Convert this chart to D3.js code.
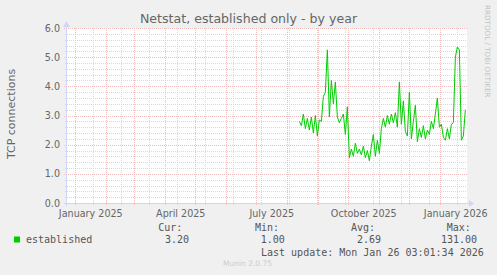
<!DOCTYPE html>
<html>
<head>
<meta charset="utf-8">
<script src="https://cdn.jsdelivr.net/npm/d3@7"></script>
<style>
  html, body { margin: 0; padding: 0; background: #f0f0f0; }
  svg { display: block; }
</style>
</head>
<body>
<div id="chart"></div>
<script>
const title = "Netstat, established only - by year";
const unitLabel = "TCP connections";
const yTicks = [0, 1, 2, 3, 4, 5, 6];
const xLabels = ["January 2025", "April 2025", "July 2025", "October 2025", "January 2026"];
const xLabelMonths = ["2025-01-01", "2025-04-01", "2025-07-01", "2025-10-01", "2026-01-01"];

// one sample every 2 days, starting at seriesStart
const seriesStart = "2025-08-13";
const established = [
  2.80, 2.65, 3.05, 2.55, 2.90, 2.50, 2.95, 2.40, 3.00, 2.30,
  2.85, 2.80, 3.65, 3.80, 5.25, 2.95, 4.20, 3.40, 4.15, 2.95,
  2.75, 2.90, 3.05, 2.35, 3.30, 1.55, 1.85, 1.60, 2.05, 1.70,
  1.85, 1.65, 1.95, 1.55, 1.80, 1.45, 1.95, 2.35, 1.60, 2.15,
  1.70, 2.55, 2.90, 2.60, 3.00, 2.70, 3.05, 2.75, 3.10, 2.60,
  4.15, 2.70, 3.50, 2.45, 2.30, 3.80, 2.20, 2.80, 3.35, 2.10,
  2.55, 2.25, 2.65, 2.20, 2.50, 2.35, 2.80, 2.55, 3.05, 3.60,
  2.60, 2.70, 2.25, 2.15, 2.55, 2.20, 2.70, 2.75, 5.00, 5.35,
  5.25, 2.15, 2.30, 3.20
];

const legendName = "established";
const statLabels = ["Cur:", "Min:", "Avg:", "Max:"];
const statValues = ["3.20", "1.00", "2.69", "131.00"];
const lastUpdate = "Last update: Mon Jan 26 03:01:34 2026";
const footer = "Munin 2.0.75";
const watermark = "RRDTOOL / TOBI OETIKER";

const width = 497, height = 275;
const plot = { left: 67, right: 467, top: 28, bottom: 203 };

const end = new Date(2026, 0, 26, 3, 1, 34);
const start = d3.timeDay.offset(end, -400);

const x = d3.scaleTime().domain([start, end]).range([plot.left - 1.5, plot.right - 1.5]);
const y = d3.scaleLinear().domain([0, 6]).range([plot.bottom, plot.top]);

const parse = d3.timeParse("%Y-%m-%d");
const t0 = parse(seriesStart);
const data = established.map((v, i) => ({ date: d3.timeDay.offset(t0, i * 2), value: v }));

const svg = d3.select("#chart").append("svg")
  .attr("width", width).attr("height", height)
  .style("font-family", "'DejaVu Sans', sans-serif");

svg.append("rect").attr("width", width).attr("height", height).attr("fill", "#f0f0f0");
svg.append("rect")
  .attr("x", plot.left).attr("y", plot.top)
  .attr("width", plot.right - plot.left).attr("height", plot.bottom - plot.top)
  .attr("fill", "#ffffff");

const minorColor = "#d8d8d8";
const majorColor = "#efbcbc";
const axisColor = "#cfd6f8";

// horizontal grid
const yMinor = d3.range(0, 6.01, 0.2).filter(v => Math.abs(v - Math.round(v)) > 0.01);
svg.append("g").selectAll("line").data(yMinor).join("line")
  .attr("x1", plot.left - 2).attr("x2", plot.right)
  .attr("y1", d => Math.round(y(d)) + 0.5).attr("y2", d => Math.round(y(d)) + 0.5)
  .attr("stroke", minorColor).attr("stroke-dasharray", "1,1");

// vertical grid: minor every 4 weeks, major at month starts
const minorDates = d3.timeDay.range(parse("2024-12-22"), end, 28);
svg.append("g").selectAll("line").data(minorDates.filter(d => x(d) > plot.left)).join("line")
  .attr("x1", d => Math.round(x(d)) + 0.5).attr("x2", d => Math.round(x(d)) + 0.5)
  .attr("y1", plot.top).attr("y2", plot.bottom + 2)
  .attr("stroke", minorColor).attr("stroke-dasharray", "1,1");

const months = d3.timeMonth.range(d3.timeMonth.ceil(start), end);
svg.append("g").selectAll("line").data(months).join("line")
  .attr("x1", d => Math.round(x(d)) + 0.5).attr("x2", d => Math.round(x(d)) + 0.5)
  .attr("y1", plot.top).attr("y2", plot.bottom + 3)
  .attr("stroke", majorColor).attr("stroke-dasharray", "1,1");

svg.append("g").selectAll("line").data(yTicks.slice(1)).join("line")
  .attr("x1", plot.left - 3).attr("x2", plot.right)
  .attr("y1", d => Math.round(y(d)) + 0.5).attr("y2", d => Math.round(y(d)) + 0.5)
  .attr("stroke", majorColor).attr("stroke-dasharray", "1,1");

// axes
svg.append("line")
  .attr("x1", plot.left - 3).attr("x2", plot.right + 2)
  .attr("y1", plot.bottom + 0.5).attr("y2", plot.bottom + 0.5)
  .attr("stroke", axisColor);
svg.append("line")
  .attr("x1", plot.left - 0.5).attr("x2", plot.left - 0.5)
  .attr("y1", plot.bottom + 3).attr("y2", plot.top - 2)
  .attr("stroke", axisColor);
svg.append("path")
  .attr("d", `M${plot.right + 2},${plot.bottom - 3} L${plot.right + 7},${plot.bottom + 0.5} L${plot.right + 2},${plot.bottom + 4} Z`)
  .attr("fill", axisColor);
svg.append("path")
  .attr("d", `M${plot.left - 4},${plot.top - 1} L${plot.left - 0.5},${plot.top - 7} L${plot.left + 3},${plot.top - 1} Z`)
  .attr("fill", axisColor);

// tick labels
svg.append("g").selectAll("text").data(yTicks).join("text")
  .attr("x", 60).attr("y", d => y(d) + 3.5)
  .attr("text-anchor", "end")
  .attr("font-size", "9.6px").attr("fill", "#666")
  .text(d => d.toFixed(1));

svg.append("g").selectAll("text").data(xLabels).join("text")
  .attr("x", (d, i) => x(d3.timeHour.offset(parse(xLabelMonths[i]), 370)))
  .attr("y", 217)
  .attr("text-anchor", "middle")
  .attr("font-size", "9.6px").attr("fill", "#666")
  .text(d => d);

// title and unit
svg.append("text")
  .attr("x", 248.5).attr("y", 23)
  .attr("text-anchor", "middle")
  .attr("font-size", "12.6px").attr("fill", "#666")
  .text(title);

svg.append("text")
  .attr("transform", "translate(14.5,114) rotate(-90)")
  .attr("text-anchor", "middle")
  .attr("font-size", "11px").attr("fill", "#666")
  .text(unitLabel);

svg.append("text")
  .attr("transform", "translate(485,5) rotate(90)")
  .attr("font-size", "7.2px").attr("fill", "#c4c4c4")
  .text(watermark);

// series
const line = d3.line().x(d => x(d.date)).y(d => y(d.value));
svg.append("path")
  .datum(data)
  .attr("fill", "none")
  .attr("stroke", "#00cc00")
  .attr("stroke-width", 1)
  .attr("d", line);

// legend
const mono = "'DejaVu Sans Mono', monospace";
const statX = [158.3, 255, 351, 446.7];
const valX = [165, 260.7, 357, 441];
svg.append("g").selectAll("text").data(statLabels).join("text")
  .attr("x", (d, i) => statX[i]).attr("y", 231)
  .attr("font-family", mono).attr("font-size", "10px").attr("fill", "#555")
  .text(d => d);
svg.append("g").selectAll("text").data(statValues).join("text")
  .attr("x", (d, i) => valX[i]).attr("y", 243)
  .attr("font-family", mono).attr("font-size", "10px").attr("fill", "#555")
  .text(d => d);
svg.append("rect")
  .attr("x", 14).attr("y", 236.5).attr("width", 6).attr("height", 6)
  .attr("fill", "#00cc00");
svg.append("text")
  .attr("x", 26).attr("y", 243)
  .attr("font-family", mono).attr("font-size", "10px").attr("fill", "#555")
  .text(legendName);
svg.append("text")
  .attr("x", 261).attr("y", 255.5)
  .attr("font-family", mono).attr("font-size", "10px").attr("fill", "#555")
  .text(lastUpdate);
svg.append("text")
  .attr("x", 247.5).attr("y", 266)
  .attr("text-anchor", "middle")
  .attr("font-size", "7.5px").attr("fill", "#cccccc")
  .text(footer);
</script>
</body>
</html>
